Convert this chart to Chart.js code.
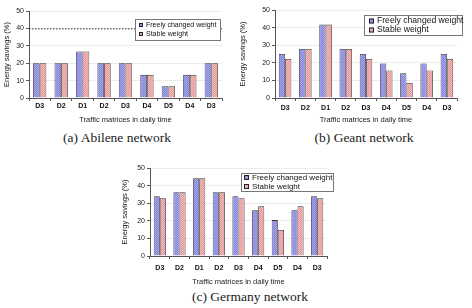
<!DOCTYPE html>
<html>
<head>
<meta charset="utf-8">
<script src="https://cdn.jsdelivr.net/npm/chart.js@4"></script>
<style>
  body { margin: 0; background: #fff; }
  #wrap { position: relative; width: 472px; height: 308px; overflow: hidden; }
  canvas { position: absolute; }
  .cap { position: absolute; font-family: "Liberation Serif", serif; font-size: 13.5px; color: #222; white-space: nowrap; transform: translateX(-50%); }
</style>
</head>
<body>
<div id="wrap">
  <canvas id="ca" style="left:0;top:0"></canvas>
  <canvas id="cb" style="left:236px;top:0"></canvas>
  <canvas id="cc" style="left:118px;top:150px"></canvas>
  <div class="cap" style="left:117px;top:130px">(a) Abilene network</div>
  <div class="cap" style="left:364px;top:130px">(b) Geant network</div>
  <div class="cap" style="left:250px;top:289px">(c) Germany network</div>
</div>
<script>
// data
const categories = ['D3', 'D2', 'D1', 'D2', 'D3', 'D4', 'D5', 'D4', 'D3'];
const seriesNames = ['Freely changed weight', 'Stable weight'];

const abileneFreely = [20, 20, 26.7, 20, 20, 13.3, 6.7, 13.3, 20];
const abileneStable = [20, 20, 26.7, 20, 20, 13.3, 6.7, 13.3, 20];

const geantFreely = [25, 27.8, 41.7, 27.8, 25, 19.6, 14, 19.6, 25];
const geantStable = [22.2, 27.8, 41.7, 27.8, 22.2, 15.6, 8.5, 15.6, 22.2];

const germanyFreely = [34, 36.2, 44.2, 36.2, 34, 26, 20.4, 26, 34];
const germanyStable = [32.8, 36.2, 44.2, 36.2, 32.8, 28.2, 14.8, 28.2, 32.8];

const yTicks = [0, 10, 20, 30, 40, 50];

function hatch(c1, c2) {
  const p = document.createElement('canvas');
  p.width = 2; p.height = 2;
  const g = p.getContext('2d');
  g.fillStyle = c1; g.fillRect(0, 0, 2, 2);
  g.fillStyle = c2; g.fillRect(0, 0, 1, 1); g.fillRect(1, 1, 1, 1);
  return g.createPattern(p, 'repeat');
}
const bluePat = hatch('#8484dc', '#a6a6f0');
const pinkPat = hatch('#e29696', '#f4bcbc');

// legend box drawn inside the plot, excel style
const boxLegend = {
  id: 'boxLegend',
  afterDatasetsDraw(chart, args, o) {
    const ctx = chart.ctx;
    ctx.save();
    if (o.refLine != null) {
      const y = chart.scales.y.getPixelForValue(o.refLine);
      ctx.strokeStyle = '#333';
      ctx.lineWidth = 1;
      ctx.setLineDash([1.5, 1.5]);
      ctx.beginPath();
      ctx.moveTo(chart.chartArea.left, y + 0.5);
      ctx.lineTo(chart.chartArea.right, y + 0.5);
      ctx.stroke();
      ctx.setLineDash([]);
    }
    ctx.fillStyle = '#fff';
    ctx.fillRect(o.x, o.y, o.w, o.h);
    ctx.strokeStyle = '#777';
    ctx.lineWidth = 1;
    ctx.strokeRect(o.x + 0.5, o.y + 0.5, o.w, o.h);
    ctx.font = o.font + 'px "Liberation Sans", Arial, sans-serif';
    ctx.textBaseline = 'middle';
    chart.data.datasets.forEach((ds, i) => {
      const ry = o.rows[i];
      ctx.fillStyle = ds.backgroundColor;
      ctx.fillRect(o.sx, ry - o.sw / 2, o.sw, o.sw);
      ctx.strokeStyle = '#222';
      ctx.strokeRect(o.sx + 0.5, ry - o.sw / 2 + 0.5, o.sw - 1, o.sw - 1);
      ctx.fillStyle = '#111';
      ctx.fillText(ds.label, o.sx + o.sw + 3, ry);
    });
    ctx.restore();
  }
};

function makeChart(id, w, h, freely, stable, cfg) {
  const cv = document.getElementById(id);
  cv.width = w; cv.height = h;
  cv.style.width = w + 'px'; cv.style.height = h + 'px';
  const font = { family: '"Liberation Sans", Arial, sans-serif' };
  return new Chart(cv, {
    type: 'bar',
    data: {
      labels: categories,
      datasets: [
        { label: seriesNames[0], data: freely, backgroundColor: bluePat, borderColor: '#333', borderWidth: 0.8 },
        { label: seriesNames[1], data: stable, backgroundColor: pinkPat, borderColor: '#333', borderWidth: 0.8 }
      ]
    },
    options: {
      responsive: false,
      animation: false,
      devicePixelRatio: 1,
      layout: { padding: { top: cfg.top, right: cfg.right, left: 0, bottom: 0 } },
      datasets: { bar: { categoryPercentage: 0.62, barPercentage: 1 } },
      scales: {
        x: {
          afterFit: s => { s.height = cfg.xh; },
          grid: { drawOnChartArea: false, tickColor: '#555', tickLength: 3 },
          border: { color: '#555' },
          ticks: { color: '#111', padding: cfg.xpad, font: { ...font, size: 7, weight: 'bold' } },
          title: { display: true, text: 'Traffic matrices in daily time', color: '#222', padding: { top: 0, bottom: 2 }, font: { ...font, size: 7.5 } }
        },
        y: {
          min: 0, max: 50,
          afterFit: s => { s.width = cfg.yw; },
          afterBuildTicks: s => { s.ticks = yTicks.map(v => ({ value: v })); },
          grid: { color: cfg.grid, tickColor: '#555', tickLength: 3 },
          border: { color: '#555' },
          ticks: { color: '#222', padding: 2, font: { ...font, size: 7 } },
          title: { display: true, text: 'Energy savings (%)', color: '#222', padding: { top: 2, bottom: 2 }, font: { ...font, size: 7.5 } }
        }
      },
      plugins: {
        legend: { display: false },
        tooltip: { enabled: false },
        boxLegend: cfg.legend
      }
    },
    plugins: [boxLegend]
  });
}

makeChart('ca', 236, 126, abileneFreely, abileneStable, {
  top: 11, right: 14, yw: 29, xh: 28, xpad: 1, grid: '#ececec',
  legend: { x: 135, y: 19, w: 85, h: 21, sx: 139, sw: 4, rows: [25, 34], font: 7, refLine: 40 }
});
makeChart('cb', 236, 126, geantFreely, geantStable, {
  top: 10, right: 15, yw: 39, xh: 28, xpad: 2.5, grid: '#ececec',
  legend: { x: 128, y: 15, w: 98, h: 20, sx: 133, sw: 5, rows: [21, 30], font: 8.6, refLine: null }
});
makeChart('cc', 236, 138, germanyFreely, germanyStable, {
  top: 18, right: 27, yw: 32, xh: 32, xpad: 4.5, grid: '#ececec',
  legend: { x: 123, y: 23, w: 92, h: 18, sx: 126, sw: 5, rows: [27.5, 36.5], font: 8, refLine: null }
});
</script>
</body>
</html>
